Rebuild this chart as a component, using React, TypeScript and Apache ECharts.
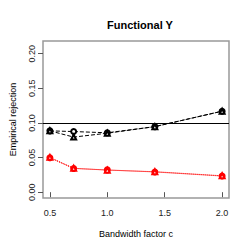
import React, { useEffect, useRef } from "react";
import * as echarts from "echarts";

const bandwidth = [0.5, 0.7071, 1.0, 1.4142, 2.0];
const blackCircle = [0.0886, 0.0876, 0.0858, 0.0947, 0.117];
const blackTriangle = [0.0886, 0.0796, 0.0852, 0.0947, 0.117];
const redCircle = [0.0497, 0.0342, 0.0322, 0.0292, 0.0233];
const redTriangle = [0.0503, 0.0346, 0.0318, 0.0296, 0.0237];
const xTicks = [0.5, 1.0, 1.5, 2.0];
const yTicks = [0, 0.05, 0.1, 0.15, 0.2];
const refLevel = 0.1;

const FONT = "Liberation Sans, Arial, sans-serif";

function pairs(ys: number[]) {
  return bandwidth.map((x, i) => [x, ys[i]]);
}

export default function App() {
  const ref = useRef<HTMLDivElement>(null);
  useEffect(() => {
    if (!ref.current) return;
    const chart = echarts.init(ref.current, null, { renderer: "svg" });
    const mk = (
      name: string,
      ys: number[],
      color: string,
      symbol: string,
      type: string,
      extra: any = {}
    ) => ({
      name,
      type: "line",
      data: pairs(ys),
      symbol,
      symbolSize: 5,
      showSymbol: true,
      lineStyle: { color, width: 1, type },
      itemStyle: { color, borderColor: color, borderWidth: 1 },
      z: 3,
      ...extra,
    });
    chart.setOption({
      animation: false,
      backgroundColor: "#fff",
      title: {
        text: "Functional Y",
        left: 135,
        top: 14,
        textAlign: "center",
        textStyle: { fontFamily: FONT, fontSize: 11, fontWeight: "bold", color: "#000" },
      },
      grid: {
        left: 41,
        top: 41,
        width: 188,
        height: 157,
        show: true,
        borderColor: "#999",
        borderWidth: 1.5,
        backgroundColor: "transparent",
      },
      xAxis: {
        type: "value",
        min: 0.44,
        max: 2.06,
        name: "Bandwidth factor c",
        nameLocation: "middle",
        nameGap: 31,
        nameTextStyle: { fontFamily: FONT, fontSize: 9, color: "#000" },
        axisLine: { show: false },
        splitLine: { show: false },
        axisTick: {
          show: true,
          length: 5,
          lineStyle: { color: "#555", width: 1 },
          customValues: xTicks,
        },
        axisLabel: {
          fontFamily: FONT,
          fontSize: 9,
          color: "#222",
          margin: 10,
          customValues: xTicks,
          formatter: (v: number) => v.toFixed(1),
        },
      },
      yAxis: {
        type: "value",
        min: -0.0084,
        max: 0.2184,
        name: "Empirical rejection",
        nameLocation: "middle",
        nameGap: 26,
        nameRotate: 90,
        nameTextStyle: { fontFamily: FONT, fontSize: 9, color: "#000" },
        axisLine: { show: false },
        splitLine: { show: false },
        axisTick: {
          show: true,
          length: 5,
          lineStyle: { color: "#555", width: 1 },
          customValues: yTicks,
        },
        axisLabel: {
          fontFamily: FONT,
          fontSize: 9,
          color: "#222",
          margin: 7,
          rotate: 90,
          customValues: yTicks,
          formatter: (v: number) => v.toFixed(2),
        },
      },
      series: [
        mk("bc", blackCircle, "#000", "emptyCircle", "dashed", {
          markLine: {
            silent: true,
            symbol: ["none", "none"],
            label: { show: false },
            lineStyle: { color: "#000", width: 1.2, type: "solid" },
            data: [{ yAxis: refLevel }],
          },
        }),
        mk("bt", blackTriangle, "#000", "emptyTriangle", "dashed"),
        mk("rc", redCircle, "#ff0000", "emptyCircle", "dotted"),
        mk("rt", redTriangle, "#ff0000", "emptyTriangle", "dotted"),
      ],
    });
    return () => chart.dispose();
  }, []);
  return <div ref={ref} style={{ width: 250, height: 250, margin: -8 }} />;
}
